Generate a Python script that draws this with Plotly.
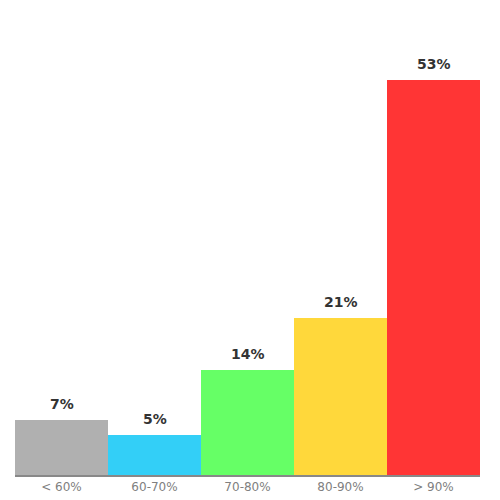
import plotly.graph_objects as go

# score bands and share of results (%)
categories = ["< 60%", "60-70%", "70-80%", "80-90%", "> 90%"]
shares = [7.4, 5.4, 14.1, 21.1, 53.0]
colors = ["#B0B0B0", "#33CFF7", "#66FF66", "#FFD83B", "#FF3535"]

fig = go.Figure(go.Bar(
    x=categories, y=shares,
    marker=dict(color=colors, line=dict(width=0)),
    hoverinfo="x+y",
))

# value labels above the bars
for cat, v in zip(categories, shares):
    fig.add_annotation(
        x=cat, y=v, text=f"<b>{v:.0f}%</b>",
        showarrow=False, yanchor="bottom", yshift=6,
        font=dict(family="DejaVu Sans", size=14, color="#333333"),
    )

fig.update_layout(
    width=500, height=500,
    margin=dict(l=7, r=28, t=20, b=33),
    bargap=0,
    plot_bgcolor="white", paper_bgcolor="white",
    showlegend=False,
    font=dict(family="DejaVu Sans"),
    xaxis=dict(showline=True, linecolor="#888888", linewidth=2,
               tickfont=dict(size=12, color="#808080"), ticks=""),
    yaxis=dict(range=[0, 60.0], visible=False, showgrid=False),
)

fig.write_html("out.html")
